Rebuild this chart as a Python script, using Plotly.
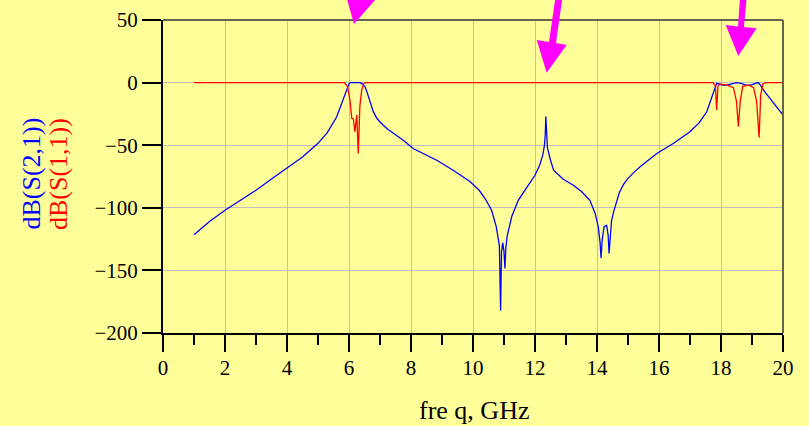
import plotly.graph_objects as go

# ---- data ----
freq_s21 = [1.0, 1.5, 2.0, 2.5, 3.0, 3.5, 4.0, 4.5, 5.0, 5.3, 5.6, 5.8, 5.9, 5.95, 6.0, 6.05,
            6.2, 6.35, 6.42, 6.47, 6.52, 6.6, 6.7, 6.78, 6.9, 7.0, 7.22, 7.5, 7.75, 8.07, 8.5,
            8.83, 9.36, 9.9, 10.2, 10.4, 10.6, 10.75, 10.85, 10.89, 10.92, 10.96, 11.0, 11.03,
            11.06, 11.1, 11.25, 11.46, 11.7, 12.0, 12.15, 12.25, 12.3, 12.33, 12.35, 12.37, 12.4,
            12.5, 12.6, 12.9, 13.24, 13.5, 13.77, 13.94, 14.04, 14.1, 14.13, 14.17, 14.23, 14.31,
            14.36, 14.39, 14.43, 14.47, 14.55, 14.63, 14.72, 14.85, 15.0, 15.2, 15.39, 15.93,
            16.46, 17.0, 17.3, 17.54, 17.68, 17.75, 17.82, 17.86, 17.95, 18.05, 18.2, 18.35, 18.5,
            18.65, 18.8, 18.95, 19.1, 19.2, 19.3, 19.4, 19.58, 19.8, 20.0]
db_s21 = [-121.5, -111, -102, -94, -86, -77, -68.5, -59.5, -48.5, -40, -27.5, -15, -8, -4, -1, 0,
          0, 0, -0.8, -1.8, -3.3, -9, -17, -23, -28.5, -31.5, -36.6, -41.5, -46, -52.6, -58,
          -62, -70, -79, -86, -93, -102, -115, -130, -182, -135, -128, -135, -148.5,
          -132, -123, -107, -94, -85, -74, -66, -58, -51, -42, -27, -42, -52,
          -62, -70, -77, -82, -87, -94, -104.5, -115, -128, -140, -125, -115, -114,
          -122, -136.5, -120, -110, -102, -95, -88, -81.5, -76.5, -71.5, -67.3, -56.6,
          -48.6, -39.3, -32, -23.3, -13.5, -8.6, -3, -0.6, -1.2, -2, -2, -1, 0,
          -0.6, -2, -2, -1, 0, -3, -7, -12.6, -20, -26]

freq_s11 = [1.0, 5.85, 5.95, 6.03, 6.09, 6.14, 6.19, 6.22, 6.25, 6.3, 6.35, 6.41, 6.47, 6.52,
            17.75, 17.82, 17.86, 17.9, 17.95, 18.2, 18.4, 18.5, 18.56, 18.62, 18.7, 18.9,
            19.05, 19.15, 19.23, 19.28, 19.35, 19.45, 20.0]
db_s11 = [0, 0, -3, -14, -28.6, -29, -39.3, -30, -26, -56.6, -19, -6, -1, 0,
          0, -3, -22, -3, -1, -2, -4, -15, -35.3, -15, -3, -2,
          -4, -15, -44, -10, -1, 0, 0]

y_ticks = [-200, -150, -100, -50, 0, 50]
x_ticks = [0, 2, 4, 6, 8, 10, 12, 14, 16, 18, 20]
y_label_s21 = "dB(S(2,1))"
y_label_s11 = "dB(S(1,1))"
x_label = "fre q, GHz"

# ---- figure ----
W, H = 809, 426
L, R, T, B = 163, 26, 20, 93
PW, PH = W - L - R, H - T - B
BG = "#FFFF99"
SERIF = "Liberation Serif, Times New Roman, DejaVu Serif, serif"


def pp(px, py):
    """pixel -> paper coordinates (for decorations only)"""
    return (px - L) / PW, (H - B - py) / PH


fig = go.Figure()
fig.add_trace(go.Scatter(x=freq_s21, y=db_s21, mode="lines",
                         line=dict(color="#0000FF", width=1.3), showlegend=False))
fig.add_trace(go.Scatter(x=freq_s11, y=db_s11, mode="lines",
                         line=dict(color="#FF0000", width=1.3), showlegend=False))

fig.update_layout(
    template="none",
    width=W, height=H,
    margin=dict(l=L, r=R, t=T, b=B, pad=0, autoexpand=False),
    paper_bgcolor=BG, plot_bgcolor=BG,
    font=dict(family=SERIF, size=21, color="#000000"),
    showlegend=False,
)
fig.update_xaxes(
    range=[0, 20], tickvals=x_ticks, ticks="outside", ticklen=17, tickwidth=1.5,
    tickcolor="#000000", showline=True, linecolor="#000000", linewidth=2,
    showgrid=True, gridcolor="#C0C0C0", gridwidth=1.2, zeroline=False, automargin=False,
    tickfont=dict(family=SERIF, size=21, color="#000000"), ticklabelstandoff=-2,
    minor=dict(dtick=1, ticks="outside", ticklen=10, tickwidth=1.5, tickcolor="#000000",
               showgrid=False),
)
fig.update_yaxes(
    range=[-200, 50], tickvals=y_ticks, ticks="outside", ticklen=19, tickwidth=1.5,
    tickcolor="#000000", showline=True, linecolor="#000000", linewidth=2,
    showgrid=True, gridcolor="#C0C0C0", gridwidth=1.2, zeroline=False, automargin=False,
    tickfont=dict(family=SERIF, size=21, color="#000000"),
)

# top/right frame
frame_col = "#66664D"
fig.add_shape(type="line", xref="paper", yref="paper", x0=0, x1=1, y0=1, y1=1,
              line=dict(color=frame_col, width=2), layer="above")
fig.add_shape(type="line", xref="paper", yref="paper", x0=1, x1=1, y0=0, y1=1,
              line=dict(color=frame_col, width=2), layer="above")

# axis titles
bx, by = pp(31.5, 174)
rx, ry = pp(59, 174)
fig.add_annotation(xref="paper", yref="paper", x=bx, y=by, text=y_label_s21, showarrow=False,
                   textangle=-90, xanchor="center", yanchor="middle",
                   font=dict(family=SERIF, size=26, color="#0000FF"))
fig.add_annotation(xref="paper", yref="paper", x=rx, y=ry, text=y_label_s11, showarrow=False,
                   textangle=-90, xanchor="center", yanchor="middle",
                   font=dict(family=SERIF, size=26, color="#FF0000"))
tx, ty = pp(474, 410)
fig.add_annotation(xref="paper", yref="paper", x=tx, y=ty, text=x_label, showarrow=False,
                   xanchor="center", yanchor="middle",
                   font=dict(family=SERIF, size=26, color="#000000"))


# magenta arrows (decorations)
def poly(points):
    parts = []
    for i, (px, py) in enumerate(points):
        x, y = pp(px, py)
        parts.append(("M" if i == 0 else "L") + f"{x:.5f},{y:.5f}")
    return " ".join(parts) + " Z"


MAG = "#FF00FF"
arrows = [
    [(354, 24), (345, -8), (382, -8)],
    [(555.5, -3), (562.5, -3), (556, 43), (566.7, 45), (546.7, 72.7), (536.7, 40), (549, 42)],
    [(740, -3), (746.7, -3), (744, 27), (756.7, 28.3), (738.3, 56), (725.7, 25), (738, 26.5)],
]
for a in arrows:
    fig.add_shape(type="path", xref="paper", yref="paper", path=poly(a),
                  fillcolor=MAG, line=dict(color=MAG, width=0), layer="above")

fig.write_html("out.html")
